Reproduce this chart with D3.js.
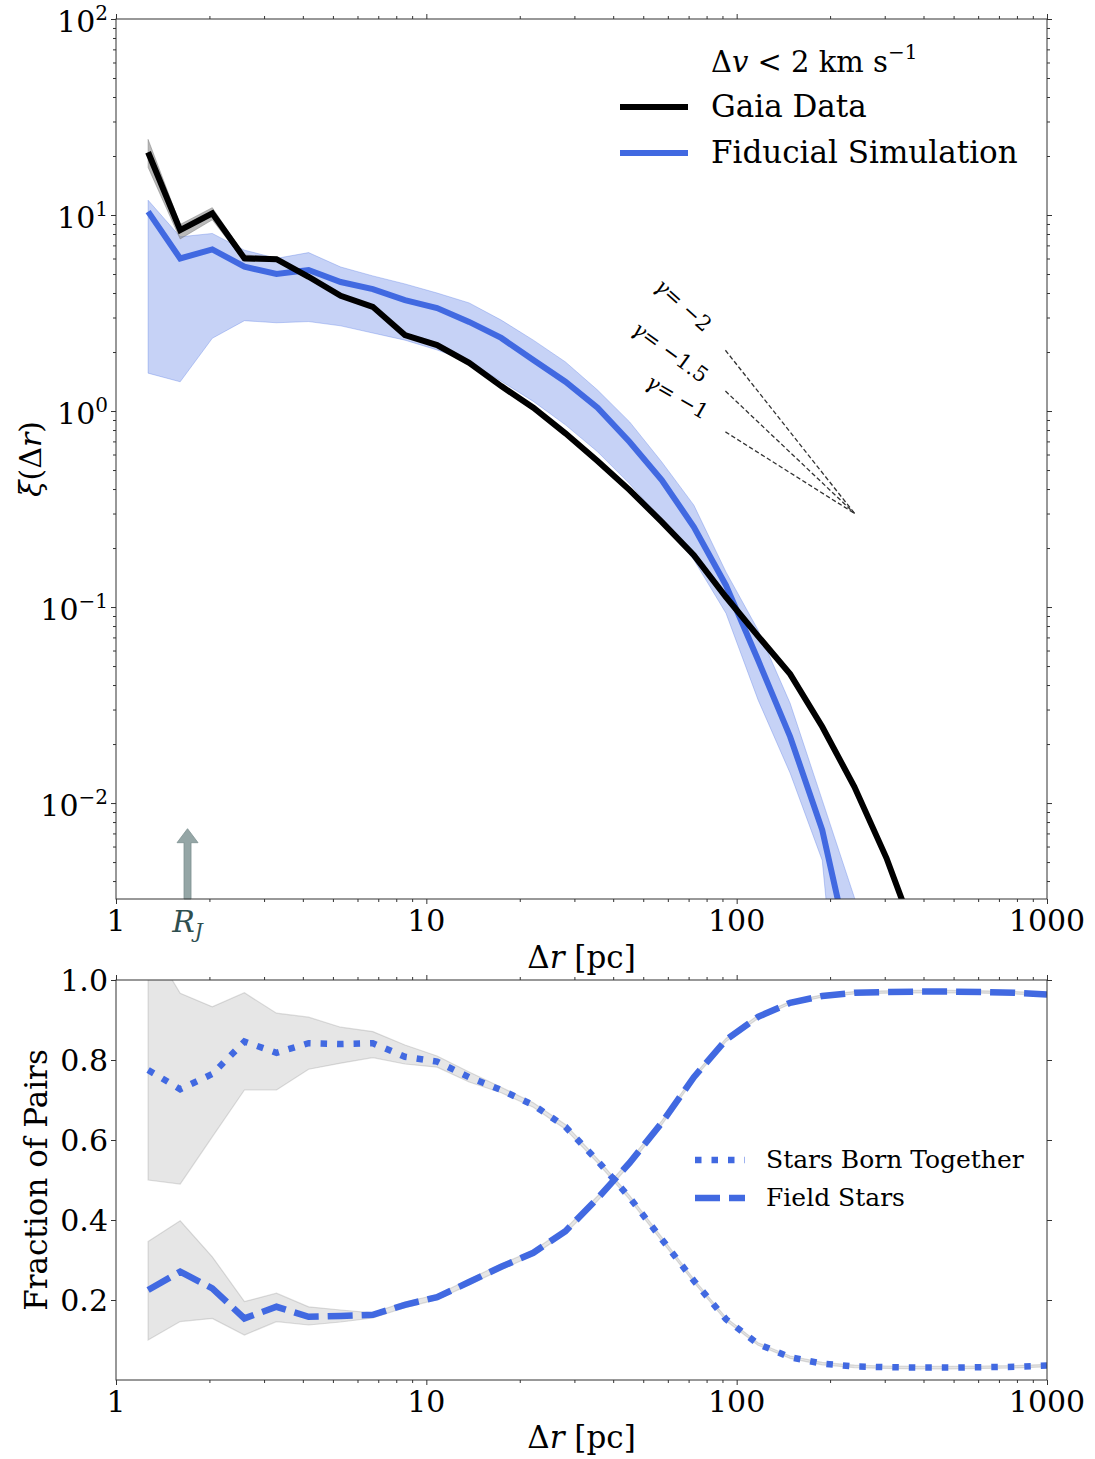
<!DOCTYPE html>
<html>
<head>
<meta charset="utf-8">
<script src="https://cdn.jsdelivr.net/npm/d3@7"></script>
<style>
  body { margin: 0; background: #fff; }
  svg { display: block; }
  text { font-family: "DejaVu Serif", serif; fill: #000; }
</style>
</head>
<body>
<svg id="chart" width="1095" height="1459"></svg>
<script>
// ---- data -------------------------------------------------------------
// separation bins (pc), log-spaced
const separation = [1.269, 1.610, 2.043, 2.593, 3.290, 4.175, 5.298, 6.723, 8.532, 10.83,
  13.74, 17.43, 22.12, 28.07, 35.62, 45.20, 57.36, 72.79, 92.37, 117.2,
  148.7, 188.7, 239.5, 303.9, 385.7, 489.4, 621.0, 788.0, 1000];

// two-point correlation of co-moving pairs, Gaia
const gaiaXi   = [20.9, 8.38, 10.2, 6.01, 5.95, 4.84, 3.87, 3.40, 2.44, 2.17, 1.76, 1.34, 1.04,
  0.77, 0.556, 0.395, 0.272, 0.184, 0.1125, 0.0711, 0.0455, 0.0245, 0.0121, 0.00524, 0.0019];
const gaiaXiHi = [24.3, 8.95, 10.9, 6.25, 6.10, 4.95, 3.95, 3.46, 2.48, 2.20, 1.78, 1.36, 1.05,
  0.78, 0.562, 0.40, 0.275, 0.186, 0.1135, 0.0718, 0.046, 0.0248, 0.0123, 0.0053, 0.0019];
const gaiaXiLo = [17.5, 7.55, 9.45, 5.80, 5.80, 4.73, 3.79, 3.34, 2.40, 2.14, 1.74, 1.32, 1.03,
  0.76, 0.55, 0.39, 0.269, 0.182, 0.1115, 0.0704, 0.045, 0.0242, 0.0119, 0.0052, 0.0019];

// fiducial simulation with its spread
const simXi   = [10.4, 6.0, 6.68, 5.45, 5.0, 5.24, 4.55, 4.19, 3.68, 3.35, 2.85, 2.36, 1.82,
  1.41, 1.04, 0.695, 0.445, 0.256, 0.129, 0.0537, 0.0218, 0.00728, 0.00135, 0.0002];
const simXiHi = [11.9, 7.74, 8.05, 6.62, 6.01, 6.43, 5.43, 4.89, 4.45, 4.0, 3.56, 2.91, 2.30,
  1.78, 1.28, 0.88, 0.55, 0.331, 0.151, 0.0763, 0.0323, 0.01035, 0.0033, 0.0008];
const simXiLo = [1.56, 1.41, 2.35, 2.89, 2.82, 2.86, 2.72, 2.50, 2.30, 2.05, 1.78, 1.42, 1.12,
  0.85, 0.62, 0.425, 0.278, 0.174, 0.093, 0.0336, 0.0142, 0.0051, 0.0001, 0.00001];

// fraction of pairs in the simulation
const bornTogether   = [0.775, 0.727, 0.765, 0.846, 0.818, 0.842, 0.840, 0.842, 0.808, 0.796,
  0.757, 0.725, 0.6875, 0.633, 0.548, 0.456, 0.352, 0.248, 0.152, 0.090,
  0.057, 0.041, 0.034, 0.032, 0.031, 0.031, 0.032, 0.033, 0.036];
const bornTogetherHi = [1.10, 0.967, 0.933, 0.968, 0.917, 0.907, 0.882, 0.871, 0.8375, 0.81,
  0.77, 0.732, 0.693, 0.639, 0.553, 0.461, 0.357, 0.252, 0.156, 0.093,
  0.060, 0.044, 0.037, 0.035, 0.034, 0.034, 0.035, 0.036, 0.039];
const bornTogetherLo = [0.50, 0.49, 0.608, 0.725, 0.725, 0.777, 0.792, 0.806, 0.79, 0.782,
  0.745, 0.718, 0.682, 0.627, 0.543, 0.451, 0.347, 0.244, 0.148, 0.087,
  0.054, 0.038, 0.031, 0.029, 0.028, 0.028, 0.029, 0.030, 0.033];

const fieldStars   = [0.225, 0.271, 0.229, 0.154, 0.183, 0.158, 0.160, 0.163, 0.188, 0.207,
  0.245, 0.283, 0.318, 0.372, 0.454, 0.543, 0.643, 0.757, 0.85, 0.908,
  0.943, 0.960, 0.968, 0.970, 0.971, 0.971, 0.970, 0.968, 0.964];
const fieldStarsHi = [0.346, 0.398, 0.308, 0.196, 0.217, 0.183, 0.175, 0.168, 0.195, 0.213,
  0.252, 0.29, 0.324, 0.378, 0.46, 0.549, 0.648, 0.761, 0.854, 0.912,
  0.946, 0.963, 0.971, 0.973, 0.974, 0.974, 0.973, 0.971, 0.967];
const fieldStarsLo = [0.10, 0.146, 0.154, 0.1125, 0.146, 0.1375, 0.145, 0.155, 0.181, 0.201,
  0.238, 0.276, 0.312, 0.366, 0.448, 0.537, 0.638, 0.753, 0.846, 0.904,
  0.940, 0.957, 0.965, 0.967, 0.968, 0.968, 0.967, 0.965, 0.961];

// ticks
const xTickValues = [1, 10, 100, 1000];
const xTickLabels = ["1", "10", "100", "1000"];
const yTopExponents = [-2, -1, 0, 1, 2];
const yBottomTicks = [0.2, 0.4, 0.6, 0.8, 1.0];

// power-law guides xi ~ r^gamma, anchored at one point
const guideGammas = [-2, -1.5, -1];
const guideGammaText = ["\u22122", "\u22121.5", "\u22121"];
const guideAnchorR = 240, guideAnchorXi = 0.30, guideStartR = 92;

// Jacobi radius marker
const jacobiRadius = 1.70;
const jacobiArrowTip = 0.0074;

// ---- layout ------------------------------------------------------------
const BLUE = "#4169e1";
const TICK_FONT = 30;
const svg = d3.select("#chart");
const left = 116, right = 1047;
const topPanel = { top: 19, bottom: 899 };
const botPanel = { top: 980, bottom: 1380 };

const x = d3.scaleLog().domain([1, 1000]).range([left, right]);
const yTop = d3.scaleLog().domain([0.00324, 100]).range([topPanel.bottom, topPanel.top]);
const yBot = d3.scaleLinear().domain([0, 1]).range([botPanel.bottom, botPanel.top]);

const defs = svg.append("defs");
function clip(id, p) {
  defs.append("clipPath").attr("id", id).append("rect")
    .attr("x", left).attr("y", p.top).attr("width", right - left).attr("height", p.bottom - p.top);
}
clip("clipTop", topPanel);
clip("clipBot", botPanel);

const pairs = (ys) => ys.map((v, i) => [separation[i], v]);
const bandRows = (lo, hi) => lo.map((v, i) => ({ r: separation[i], lo: v, hi: hi[i] }));

// ---- frame & ticks -----------------------------------------------------
const xMinor = x.ticks().filter(v => !xTickValues.includes(v));

function styleAxis(g) {
  g.select(".domain").remove();
  g.selectAll(".tick line").attr("stroke", "#333").attr("stroke-width", 1);
  g.selectAll(".tick text").remove();
}

function drawFrame(p, yScale, yMajor, yMinor) {
  const g = svg.append("g");
  const mk = (axisFn, scale, vals, size, tx, ty) => {
    g.append("g").attr("transform", `translate(${tx},${ty})`)
      .call(axisFn(scale).tickValues(vals).tickSize(size).tickFormat(""))
      .call(styleAxis);
  };
  mk(d3.axisBottom, x, xTickValues, 5, 0, p.bottom);
  mk(d3.axisBottom, x, xMinor, 3, 0, p.bottom);
  mk(d3.axisTop, x, xTickValues, 5, 0, p.top);
  mk(d3.axisTop, x, xMinor, 3, 0, p.top);
  mk(d3.axisLeft, yScale, yMajor, 5, left, 0);
  mk(d3.axisRight, yScale, yMajor, 5, right, 0);
  if (yMinor) {
    mk(d3.axisLeft, yScale, yMinor, 3, left, 0);
    mk(d3.axisRight, yScale, yMinor, 3, right, 0);
  }
  g.append("rect").attr("x", left).attr("y", p.top)
    .attr("width", right - left).attr("height", p.bottom - p.top)
    .attr("fill", "none").attr("stroke", "#333").attr("stroke-width", 1);
  // x tick labels
  g.selectAll("text.xt").data(xTickValues).join("text")
    .attr("x", d => x(d)).attr("y", p.bottom + 32)
    .attr("text-anchor", "middle").attr("font-size", TICK_FONT)
    .text((d, i) => xTickLabels[i]);
  return g;
}

// ---- top panel ---------------------------------------------------------
const yTopMajor = yTopExponents.map(e => Math.pow(10, e));
const yTopMinor = yTop.ticks().filter(v => v >= yTop.domain()[0] && !yTopMajor.some(m => Math.abs(m - v) / m < 1e-6));

const gTop = svg.append("g").attr("clip-path", "url(#clipTop)");

const areaTop = d3.area().x(d => x(d.r)).y0(d => yTop(d.lo)).y1(d => yTop(d.hi));
const lineTop = d3.line().x(d => x(d[0])).y(d => yTop(d[1]));

gTop.append("path").datum(bandRows(simXiLo, simXiHi)).attr("d", areaTop)
  .attr("fill", BLUE).attr("fill-opacity", 0.3)
  .attr("stroke", BLUE).attr("stroke-opacity", 0.3).attr("stroke-width", 1);
gTop.append("path").datum(bandRows(gaiaXiLo, gaiaXiHi)).attr("d", areaTop)
  .attr("fill", "#808080").attr("fill-opacity", 0.55)
  .attr("stroke", "#808080").attr("stroke-opacity", 0.5).attr("stroke-width", 1);

// power-law guides
guideGammas.forEach(gm => {
  const pts = [[guideStartR, guideAnchorXi * Math.pow(guideStartR / guideAnchorR, gm)],
               [guideAnchorR, guideAnchorXi]];
  gTop.append("path").attr("d", lineTop(pts)).attr("fill", "none")
    .attr("stroke", "#333").attr("stroke-width", 1.3).attr("stroke-dasharray", "4.5,2.5");
});

gTop.append("path").attr("d", lineTop(pairs(simXi))).attr("fill", "none")
  .attr("stroke", BLUE).attr("stroke-width", 6).attr("stroke-linejoin", "miter");
gTop.append("path").attr("d", lineTop(pairs(gaiaXi))).attr("fill", "none")
  .attr("stroke", "#000").attr("stroke-width", 6).attr("stroke-linejoin", "miter");

// guide labels (data coordinates + rotation)
const guideLabelPlacement = [
  { r: 67.2, xi: 3.47, rot: 42 },
  { r: 61.0, xi: 2.00, rot: 36 },
  { r: 64.3, xi: 1.18, rot: 30 }
];
guideLabelPlacement.forEach((p, i) => {
  const t = svg.append("text")
    .attr("transform", `translate(${x(p.r)},${yTop(p.xi)}) rotate(${p.rot})`)
    .attr("text-anchor", "middle").attr("dominant-baseline", "central")
    .attr("font-size", 21);
  t.append("tspan").attr("font-style", "italic").text("\u03b3");
  t.append("tspan").text("= " + guideGammaText[i]);
});

// Jacobi radius arrow
{
  const cx = x(jacobiRadius), tip = yTop(jacobiArrowTip), base = topPanel.bottom;
  const headLen = 14, headHalf = 10.5, shaftHalf = 3.5;
  const pts = [[cx - shaftHalf, base], [cx - shaftHalf, tip + headLen], [cx - headHalf, tip + headLen],
               [cx, tip], [cx + headHalf, tip + headLen], [cx + shaftHalf, tip + headLen], [cx + shaftHalf, base]];
  svg.append("polygon").attr("points", pts.map(p => p.join(",")).join(" "))
    .attr("fill", "#95a6a6").attr("stroke", "#7d9191").attr("stroke-width", 0.8);
  const t = svg.append("text").attr("x", cx).attr("y", topPanel.bottom + 33)
    .attr("text-anchor", "middle").attr("font-size", 30).style("fill", "#2f4f4f");
  t.append("tspan").attr("font-style", "italic").style("fill", "#2f4f4f").text("R");
  t.append("tspan").attr("font-style", "italic").attr("font-size", 20).attr("dy", 6).style("fill", "#2f4f4f").text("J");
}

drawFrame(topPanel, yTop, yTopMajor, yTopMinor);

// y tick labels 10^n
yTopExponents.forEach(e => {
  const t = svg.append("text").attr("x", 108).attr("y", yTop(Math.pow(10, e)) + 13)
    .attr("text-anchor", "end").attr("font-size", TICK_FONT);
  t.append("tspan").text("10");
  t.append("tspan").attr("font-size", 20).attr("dy", -12).text(e < 0 ? "\u2212" + (-e) : String(e));
});

// axis labels
{
  const t = svg.append("text").attr("x", (left + right) / 2).attr("y", 968)
    .attr("text-anchor", "middle").attr("font-size", 31);
  t.append("tspan").text("\u0394");
  t.append("tspan").attr("font-style", "italic").text("r");
  t.append("tspan").text(" [pc]");
  const yl = svg.append("text").attr("transform", `translate(41,${(topPanel.top + topPanel.bottom) / 2}) rotate(-90)`)
    .attr("text-anchor", "middle").attr("font-size", 30);
  yl.append("tspan").attr("font-style", "italic").text("\u03be");
  yl.append("tspan").text("(\u0394");
  yl.append("tspan").attr("font-style", "italic").text("r");
  yl.append("tspan").text(")");
}

// legend (top)
{
  const g = svg.append("g");
  const title = g.append("text").attr("x", 711).attr("y", 72).attr("font-size", 29);
  title.append("tspan").text("\u0394");
  title.append("tspan").attr("font-style", "italic").text("v");
  title.append("tspan").text(" < 2 km s");
  title.append("tspan").attr("font-size", 20).attr("dy", -13).text("\u22121");
  const items = [{ label: "Gaia Data", color: "#000", y: 107 }, { label: "Fiducial Simulation", color: BLUE, y: 153 }];
  items.forEach(it => {
    g.append("line").attr("x1", 620).attr("x2", 688).attr("y1", it.y).attr("y2", it.y)
      .attr("stroke", it.color).attr("stroke-width", 6);
    g.append("text").attr("x", 711).attr("y", it.y + 10).attr("font-size", 31).text(it.label);
  });
}

// ---- bottom panel ------------------------------------------------------
const gBot = svg.append("g").attr("clip-path", "url(#clipBot)");
const areaBot = d3.area().x(d => x(d.r)).y0(d => yBot(d.lo)).y1(d => yBot(d.hi));
const lineBot = d3.line().x(d => x(d[0])).y(d => yBot(d[1]));

[[bornTogetherLo, bornTogetherHi], [fieldStarsLo, fieldStarsHi]].forEach(([lo, hi]) => {
  gBot.append("path").datum(bandRows(lo, hi)).attr("d", areaBot)
    .attr("fill", "#808080").attr("fill-opacity", 0.2)
    .attr("stroke", "#808080").attr("stroke-opacity", 0.25).attr("stroke-width", 1.2);
});

const DOTTED = "6.5,10", DASHED = "25,9";
gBot.append("path").attr("d", lineBot(pairs(bornTogether))).attr("fill", "none")
  .attr("stroke", BLUE).attr("stroke-width", 6.5).attr("stroke-dasharray", DOTTED);
gBot.append("path").attr("d", lineBot(pairs(fieldStars))).attr("fill", "none")
  .attr("stroke", BLUE).attr("stroke-width", 6.5).attr("stroke-dasharray", DASHED);

drawFrame(botPanel, yBot, yBottomTicks, null);

yBottomTicks.forEach(v => {
  svg.append("text").attr("x", 108).attr("y", yBot(v) + 11)
    .attr("text-anchor", "end").attr("font-size", TICK_FONT).text(d3.format(".1f")(v));
});

{
  const t = svg.append("text").attr("x", (left + right) / 2).attr("y", 1448)
    .attr("text-anchor", "middle").attr("font-size", 31);
  t.append("tspan").text("\u0394");
  t.append("tspan").attr("font-style", "italic").text("r");
  t.append("tspan").text(" [pc]");
  svg.append("text").attr("transform", `translate(47,${(botPanel.top + botPanel.bottom) / 2}) rotate(-90)`)
    .attr("text-anchor", "middle").attr("font-size", 31).text("Fraction of Pairs");
}

// legend (bottom)
{
  const items = [{ label: "Stars Born Together", dash: DOTTED, y: 1160 },
                 { label: "Field Stars", dash: DASHED, y: 1198 }];
  items.forEach(it => {
    svg.append("line").attr("x1", 695).attr("x2", 745).attr("y1", it.y).attr("y2", it.y)
      .attr("stroke", BLUE).attr("stroke-width", 6.5).attr("stroke-dasharray", it.dash);
    svg.append("text").attr("x", 766).attr("y", it.y + 8).attr("font-size", 25).text(it.label);
  });
}
</script>
</body>
</html>
